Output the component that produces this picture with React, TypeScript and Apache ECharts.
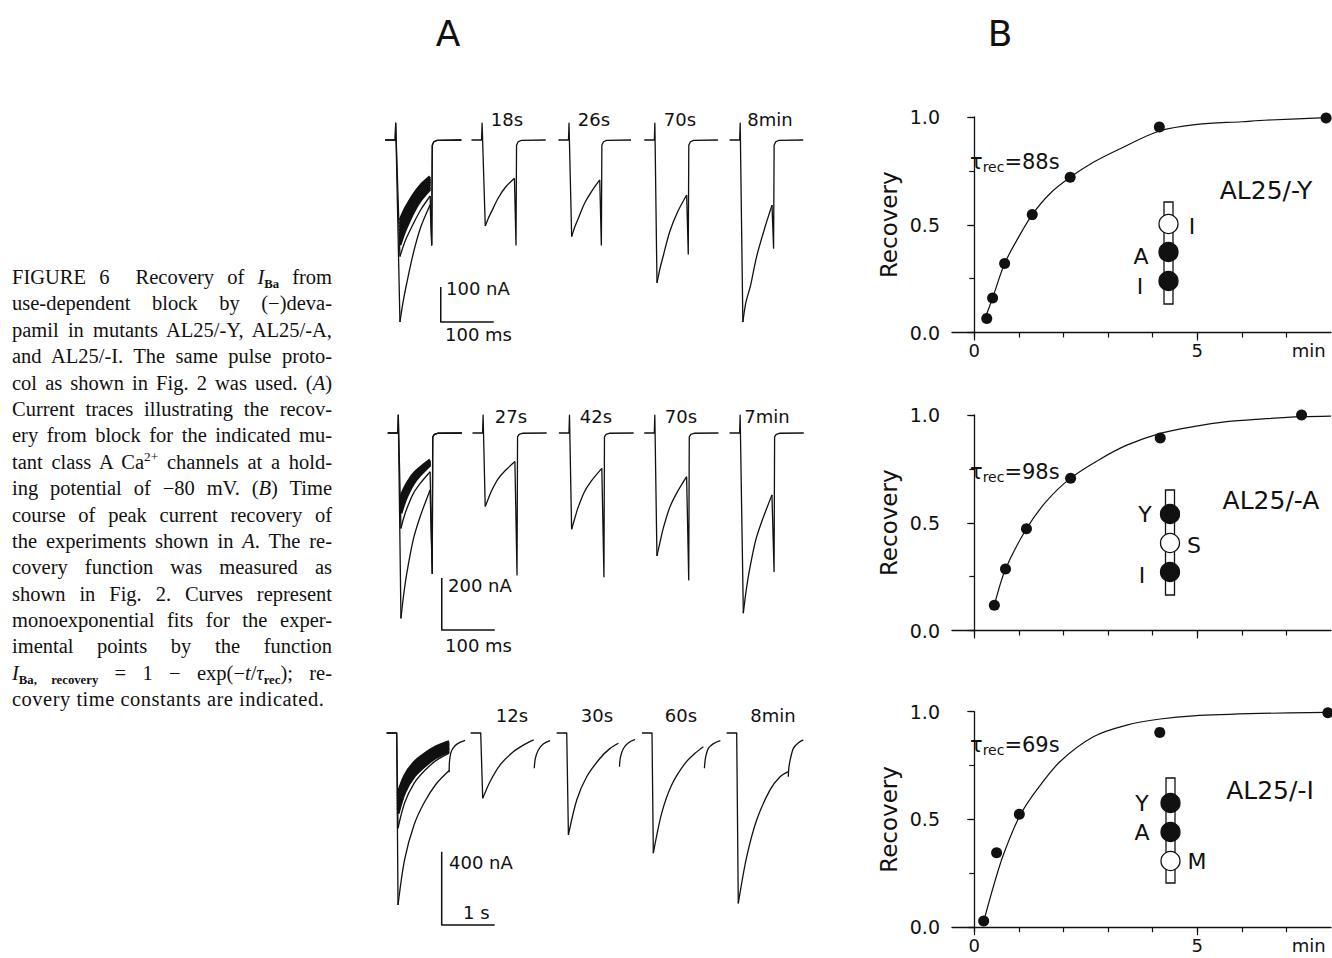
import React, { useEffect, useRef } from "react";
import * as echarts from "echarts";

const FONT = '"DejaVu Sans", Verdana, sans-serif';
const INK = "#111";

// ---------------- Panel A data (time in ms, current in nA) ----------------
const row1Onsets = [0, 163, 327, 489, 650];
const row1TimeLabels = ["18s", "26s", "70s", "8min"];
const row1Spike = 48;
const row1Traces = [
  { g: 0, tail: -300, band: false, d: [[8, -520], [14, -462], [20, -415], [33, -325], [47, -250], [65, -185]] },
  { g: 0, tail: -300, band: false, d: [[8, -333], [14, -305], [20, -281], [33, -240], [47, -200], [65, -160]] },
  { g: 0, tail: -300, band: true, d: [[8, -230], [14, -209], [20, -191], [33, -158], [47, -130], [65, -105]] },
  { g: 0, tail: -300, band: true, d: [[8, -240], [14, -218], [20, -200], [33, -165], [47, -136], [65, -110]] },
  { g: 0, tail: -300, band: true, d: [[8, -250], [14, -227], [20, -208], [33, -171], [47, -141], [65, -114]] },
  { g: 0, tail: -300, band: true, d: [[8, -260], [14, -236], [20, -216], [33, -178], [47, -146], [65, -118]] },
  { g: 0, tail: -300, band: true, d: [[8, -270], [14, -245], [20, -224], [33, -185], [47, -152], [65, -123]] },
  { g: 0, tail: -300, band: true, d: [[8, -280], [14, -254], [20, -233], [33, -192], [47, -158], [65, -128]] },
  { g: 0, tail: -300, band: true, d: [[8, -290], [14, -263], [20, -242], [33, -200], [47, -165], [65, -134]] },
  { g: 0, tail: -300, band: true, d: [[8, -300], [14, -273], [20, -250], [33, -207], [47, -172], [65, -140]] },
  { g: 1, tail: -300, band: false, d: [[6, -246], [12, -223], [18, -204], [30, -167], [44, -135], [61, -109]] },
  { g: 2, tail: -300, band: false, d: [[5, -276], [11, -248], [17, -226], [29, -182], [43, -146], [58, -114]] },
  { g: 3, tail: -326, band: false, d: [[4, -408], [10, -365], [16, -330], [28, -262], [43, -205], [60, -157]] },
  { g: 4, tail: -309, band: false, d: [[5, -520], [11, -462], [19, -419], [31, -333], [47, -248], [60, -186]] },
];
const row1ScaleBar = [[85, -420], [85, -520], [185, -520]];

const row2Onsets = [0, 160, 323, 484, 645];
const row2TimeLabels = ["27s", "42s", "70s", "7min"];
const row2Spike = 69;
const row2Traces = [
  { g: 0, tail: -540, band: false, d: [[5, -713], [10, -624], [16, -540], [28, -412], [41, -323], [60, -219]] },
  { g: 0, tail: -540, band: false, d: [[5, -367], [10, -328], [16, -291], [28, -234], [41, -195], [60, -149]] },
  { g: 0, tail: -540, band: true, d: [[5, -245], [10, -220], [16, -196], [28, -159], [41, -134], [60, -104]] },
  { g: 0, tail: -540, band: true, d: [[5, -254], [10, -228], [16, -203], [28, -164], [41, -138], [60, -107]] },
  { g: 0, tail: -540, band: true, d: [[5, -263], [10, -235], [16, -209], [28, -169], [41, -141], [60, -109]] },
  { g: 0, tail: -540, band: true, d: [[5, -272], [10, -243], [16, -216], [28, -174], [41, -146], [60, -112]] },
  { g: 0, tail: -540, band: true, d: [[5, -281], [10, -251], [16, -223], [28, -180], [41, -150], [60, -115]] },
  { g: 0, tail: -540, band: true, d: [[5, -290], [10, -259], [16, -229], [28, -184], [41, -153], [60, -117]] },
  { g: 0, tail: -540, band: true, d: [[5, -299], [10, -267], [16, -236], [28, -190], [41, -158], [60, -120]] },
  { g: 0, tail: -540, band: true, d: [[5, -309], [10, -276], [16, -244], [28, -196], [41, -162], [60, -123]] },
  { g: 1, tail: -546, band: false, d: [[4, -283], [10, -252], [16, -222], [28, -177], [41, -146], [60, -110]] },
  { g: 2, tail: -553, band: false, d: [[4, -370], [10, -328], [16, -288], [28, -227], [41, -185], [61, -136]] },
  { g: 3, tail: -565, band: false, d: [[4, -473], [10, -418], [16, -366], [28, -287], [41, -232], [60, -168]] },
  { g: 4, tail: -533, band: false, d: [[6, -693], [11, -611], [17, -534], [29, -415], [42, -334], [60, -238]] },
];
const row2ScaleBar = [[82, -558], [82, -758], [182, -758]];

// recovery of the baseline after each tail (relative ms, nA)
const tailRecovery = [[1, -15], [4, -5], [10, -1], [56, 0]];

const row3Onsets = [0, 1585, 3208, 4817, 6415];
const row3TimeLabels = ["12s", "30s", "60s", "8min"];
const row3Traces = [
  { g: 0, band: false, d: [[25, -940], [150, -690], [330, -500], [520, -380], [740, -280], [990, -205]] },
  { g: 0, band: false, d: [[25, -520], [150, -381], [330, -274], [520, -208], [740, -151], [990, -110]] },
  { g: 0, band: true, d: [[25, -330], [150, -234], [330, -161], [520, -116], [740, -76], [990, -48]] },
  { g: 0, band: true, d: [[25, -345], [150, -246], [330, -171], [520, -125], [740, -84], [990, -55]] },
  { g: 0, band: true, d: [[25, -360], [150, -259], [330, -181], [520, -134], [740, -92], [990, -62]] },
  { g: 0, band: true, d: [[25, -375], [150, -271], [330, -192], [520, -143], [740, -101], [990, -70]] },
  { g: 0, band: true, d: [[25, -390], [150, -284], [330, -202], [520, -152], [740, -109], [990, -77]] },
  { g: 0, band: true, d: [[25, -405], [150, -296], [330, -213], [520, -162], [740, -117], [990, -85]] },
  { g: 0, band: true, d: [[25, -420], [150, -308], [330, -223], [520, -171], [740, -125], [990, -92]] },
  { g: 0, band: true, d: [[25, -440], [150, -324], [330, -236], [520, -182], [740, -134], [990, -100]] },
  { g: 1, band: false, d: [[38, -357], [175, -266], [364, -175], [615, -102], [804, -66], [1000, -38]] },
  { g: 2, band: false, d: [[32, -557], [189, -366], [377, -239], [629, -138], [818, -84], [975, -56]] },
  { g: 3, band: false, d: [[25, -657], [182, -439], [371, -284], [623, -166], [811, -111], [969, -75]] },
  { g: 4, band: false, d: [[30, -931], [189, -676], [377, -475], [629, -311], [818, -239], [974, -211]] },
];
const row3Tails = [
  [[990, -215], [995, -160], [1020, -110], [1070, -80], [1150, -58], [1290, -40]],
  [[1011, -193], [1030, -140], [1087, -93], [1180, -60], [1308, -42]],
  [[995, -184], [1015, -130], [1070, -85], [1160, -55], [1290, -35]],
  [[989, -193], [1010, -135], [1064, -84], [1160, -58], [1290, -42]],
  [[974, -239], [980, -200], [1000, -160], [1069, -84], [1160, -55], [1258, -38]],
];
const row3ScaleBar = [[849, -649], [849, -1049], [1849, -1049]];

// ---------------- Panel B data (time in min, recovery fraction) ----------------
const ptsTimeY = [0.28, 0.41, 0.68, 1.3, 2.15, 4.15, 7.89];
const ptsRecY = [0.065, 0.16, 0.32, 0.547, 0.72, 0.954, 0.995];
const fitTimeY = [0.25, 0.41, 0.68, 1.0, 1.3, 1.7, 2.15, 2.67, 3.27, 4.15, 5.0, 6.0, 6.5, 7.9];
const fitRecY = [0.07, 0.16, 0.32, 0.445, 0.547, 0.645, 0.72, 0.79, 0.853, 0.935, 0.966, 0.978, 0.985, 0.997];

const ptsTimeA = [0.45, 0.7, 1.17, 2.16, 4.17, 7.34];
const ptsRecA = [0.117, 0.285, 0.472, 0.707, 0.893, 1.0];
const fitTimeA = [0.45, 0.7, 1.17, 1.62, 2.16, 2.82, 3.42, 4.17, 4.91, 5.66, 6.41, 7.34, 8.0];
const fitRecA = [0.117, 0.285, 0.472, 0.6, 0.707, 0.795, 0.86, 0.915, 0.946, 0.969, 0.981, 0.992, 0.995];

const ptsTimeI = [0.21, 0.5, 1.01, 4.16, 7.93];
const ptsRecI = [0.029, 0.345, 0.524, 0.904, 0.995];
const fitTimeI = [0.21, 0.43, 0.65, 1.01, 1.4, 1.92, 2.67, 3.42, 4.17, 4.91, 6.41, 7.93];
const fitRecI = [0.026, 0.19, 0.335, 0.513, 0.637, 0.768, 0.884, 0.938, 0.966, 0.981, 0.992, 0.997];

const tauLabels = ["88s", "98s", "69s"];
const mutantNames = ["AL25/-Y", "AL25/-A", "AL25/-I"];
const xTickValues = [0, 1, 2, 3, 4, 5, 6, 7];
const xMajorTicks = [0, 5];
const yTickValues = [0, 0.25, 0.5, 0.75, 1];
const yLabelValues = [0, 0.5, 1];

// ---------------- layout (pixels) ----------------
const rowLayout = [
  { onsetPx: 395.7, basePx: 140, pxPerMs: 0.53, pxPerNA: 0.35, xMin: -30, xMax: 800, yMin: -600, yMax: 80 },
  { onsetPx: 398.3, basePx: 433, pxPerMs: 0.53, pxPerNA: 0.26, xMin: -30, xMax: 800, yMin: -800, yMax: 100 },
  { onsetPx: 396.7, basePx: 733, pxPerMs: 0.053, pxPerNA: 0.183, xMin: -300, xMax: 8000, yMin: -1100, yMax: 100 },
];
const bTops = [117, 415, 711.7];
const bLeft = 952;
const bWidth = 379;
const bHeight = 215.5;
const BAND_W = 3;

function lineSeries(idx: number, data: number[][], width: number, smooth: number | boolean = false) {
  return {
    type: "line",
    xAxisIndex: idx,
    yAxisIndex: idx,
    data,
    showSymbol: false,
    symbol: "none",
    silent: true,
    clip: false,
    smooth,
    lineStyle: { color: INK, width, join: "round" },
  };
}

function txt(text: string, x: number, y: number, size: number, align = "center", extra: any = {}) {
  return {
    type: "text",
    x,
    y,
    silent: true,
    style: { text, fill: INK, fontSize: size, fontFamily: FONT, align, verticalAlign: "middle", ...extra },
  };
}

function buildOption() {
  const grids: any[] = [];
  const xAxes: any[] = [];
  const yAxes: any[] = [];
  const series: any[] = [];
  const graphic: any[] = [];

  // Panel A grids
  rowLayout.forEach((L, r) => {
    grids.push({
      left: L.onsetPx + L.xMin * L.pxPerMs,
      top: L.basePx - L.yMax * L.pxPerNA,
      width: (L.xMax - L.xMin) * L.pxPerMs,
      height: (L.yMax - L.yMin) * L.pxPerNA,
      outerBoundsMode: "none",
    });
    xAxes.push({ gridIndex: r, type: "value", show: false, min: L.xMin, max: L.xMax });
    yAxes.push({ gridIndex: r, type: "value", show: false, min: L.yMin, max: L.yMax });
  });

  // Panel B grids
  for (let p = 0; p < 3; p++) {
    grids.push({ left: bLeft, top: bTops[p], width: bWidth, height: bHeight, outerBoundsMode: "none" });
  }
  for (let p = 0; p < 3; p++) {
    xAxes.push({
      gridIndex: 3 + p,
      type: "value",
      min: -0.5,
      max: 8,
      position: "bottom",
      axisLine: { lineStyle: { color: INK, width: 1.3 } },
      axisTick: { customValues: xTickValues, length: 5, lineStyle: { color: INK, width: 1.2 } },
      axisLabel: {
        show: p !== 1,
        customValues: [0, 5, 7.5],
        formatter: (v: number) => (v === 0 ? "0" : v === 5 ? "5" : "min"),
        color: INK,
        fontSize: 18,
        fontFamily: FONT,
        margin: 9,
      },
      splitLine: { show: false },
    });
    yAxes.push({
      gridIndex: 3 + p,
      type: "value",
      min: 0,
      max: 1,
      position: "left",
      name: "Recovery",
      nameLocation: "middle",
      nameGap: 52,
      nameTextStyle: { color: INK, fontSize: 23, fontFamily: FONT },
      axisLine: { lineStyle: { color: INK, width: 1.3 } },
      axisTick: { customValues: yTickValues, length: 5, lineStyle: { color: INK, width: 1.2 } },
      axisLabel: {
        customValues: yLabelValues,
        formatter: (v: number) => v.toFixed(1),
        color: INK,
        fontSize: 19,
        fontFamily: FONT,
        margin: 12,
      },
      splitLine: { show: false },
    });
  }
  for (let p = 0; p < 3; p++) {
    xAxes.push({
      gridIndex: 3 + p,
      type: "value",
      min: -0.5,
      max: 8,
      position: "bottom",
      axisLine: { show: false },
      axisTick: { customValues: xMajorTicks, length: 8, lineStyle: { color: INK, width: 1.2 } },
      axisLabel: { show: false },
      splitLine: { show: false },
    });
    yAxes.push({
      gridIndex: 3 + p,
      type: "value",
      min: 0,
      max: 1,
      position: "left",
      axisLine: { show: false },
      axisTick: { customValues: yLabelValues, length: 7, lineStyle: { color: INK, width: 1.2 } },
      axisLabel: { show: false },
      splitLine: { show: false },
    });
  }

  // Panel A series: sharp onset part, smooth decay, sharp tail part
  const pulseRows = [
    { traces: row1Traces, onsets: row1Onsets, spike: row1Spike, tailDx: 3, bar: row1ScaleBar },
    { traces: row2Traces, onsets: row2Onsets, spike: row2Spike, tailDx: 4, bar: row2ScaleBar },
  ];
  pulseRows.forEach((R, r) => {
    R.traces.forEach((tr) => {
      const on = R.onsets[tr.g];
      const decay = tr.d.map(([t, i]) => [on + t, i]);
      series.push(lineSeries(r, decay, tr.band ? BAND_W : 1.3, 0.3));
      if (!tr.band) {
        series.push(lineSeries(r, [[on - 20, 0], [on - 1, 0], [on, R.spike], decay[0]], 1.3));
        const last = decay[decay.length - 1];
        const tt = last[0] + R.tailDx;
        const tailPts = [last, [tt, tr.tail]].concat(tailRecovery.map(([dt, i]) => [tt + dt, i]));
        series.push(lineSeries(r, tailPts, 1.3));
      }
    });
    series.push(lineSeries(r, R.bar, 1.5));
  });
  row3Traces.forEach((tr) => {
    const on = row3Onsets[tr.g];
    const decay = tr.d.map(([t, i]) => [on + t, i]);
    series.push(lineSeries(2, decay, tr.band ? BAND_W : 1.3, 0.3));
    if (!tr.band) series.push(lineSeries(2, [[on - 190, 0], [on, 0], decay[0]], 1.3));
  });
  row3Tails.forEach((tl, g) => {
    series.push(lineSeries(2, tl.map(([t, i]) => [row3Onsets[g] + t, i]), 1.3, 0.3));
  });
  series.push(lineSeries(2, row3ScaleBar, 1.5));

  // Panel B series
  const bData = [
    { pt: ptsTimeY, pr: ptsRecY, ft: fitTimeY, fr: fitRecY },
    { pt: ptsTimeA, pr: ptsRecA, ft: fitTimeA, fr: fitRecA },
    { pt: ptsTimeI, pr: ptsRecI, ft: fitTimeI, fr: fitRecI },
  ];
  bData.forEach((B, p) => {
    series.push({
      type: "line",
      xAxisIndex: 3 + p,
      yAxisIndex: 3 + p,
      data: B.ft.map((t, i) => [t, B.fr[i]]),
      smooth: 0.3,
      showSymbol: false,
      symbol: "none",
      silent: true,
      lineStyle: { color: INK, width: 1.2 },
    });
    series.push({
      type: "scatter",
      xAxisIndex: 3 + p,
      yAxisIndex: 3 + p,
      data: B.pt.map((t, i) => [t, B.pr[i]]),
      symbol: "circle",
      symbolSize: 11,
      silent: true,
      clip: false,
      itemStyle: { color: INK, opacity: 1 },
    });
  });

  // Texts
  graphic.push(txt("A", 448, 33, 36));
  graphic.push(txt("B", 1000, 33, 36));
  const labelX = [
    [507, 594, 680, 770],
    [511, 596, 681, 767],
    [512, 597, 681, 773],
  ];
  const labelY = [119, 416, 715];
  [row1TimeLabels, row2TimeLabels, row3TimeLabels].forEach((labs, r) => {
    labs.forEach((l, k) => graphic.push(txt(l, labelX[r][k], labelY[r], 18)));
  });
  graphic.push(txt("100 nA", 446, 288, 18, "left"));
  graphic.push(txt("100 ms", 445, 334, 18, "left"));
  graphic.push(txt("200 nA", 448, 585, 18, "left"));
  graphic.push(txt("100 ms", 445, 645, 18, "left"));
  graphic.push(txt("400 nA", 449, 862, 18, "left"));
  graphic.push(txt("1 s", 463, 912, 18, "left"));

  const tauY = [162, 472, 745];
  const nameXY = [[1266, 190], [1271, 500], [1270, 790]];
  tauY.forEach((y, p) => {
    graphic.push({
      type: "text",
      x: 970,
      y,
      silent: true,
      style: {
        text: "{a|τ}{b|rec}{a|=" + tauLabels[p] + "}",
        align: "left",
        verticalAlign: "middle",
        fill: INK,
        rich: {
          a: { fontSize: 21, fontFamily: FONT, lineHeight: 24, fill: INK },
          b: { fontSize: 14, fontFamily: FONT, lineHeight: 14, verticalAlign: "bottom", fill: INK },
        },
      },
    });
    graphic.push(txt(mutantNames[p], nameXY[p][0], nameXY[p][1], 25));
  });

  // Schematic channel segments
  const schem = [
    { cx: 1168.5, y0: 202, y1: 304, dots: [[224, 0], [252, 1], [281, 1]], labs: [["I", 1192, 226], ["A", 1141, 256], ["I", 1140, 286]] },
    { cx: 1170, y0: 490, y1: 595, dots: [[514, 1], [543, 0], [572, 1]], labs: [["Y", 1145, 514], ["S", 1194, 545], ["I", 1142, 575]] },
    { cx: 1170.5, y0: 778, y1: 883, dots: [[803, 1], [832, 1], [861, 0]], labs: [["Y", 1142, 803], ["A", 1142, 832], ["M", 1197, 861]] },
  ];
  schem.forEach((s) => {
    graphic.push({
      type: "rect",
      silent: true,
      shape: { x: s.cx - 4.5, y: s.y0, width: 9, height: s.y1 - s.y0 },
      style: { fill: "#fff", stroke: INK, lineWidth: 1.3 },
    });
    s.dots.forEach(([cy, filled]) => {
      graphic.push({
        type: "circle",
        silent: true,
        shape: { cx: s.cx, cy, r: 9.5 },
        style: { fill: filled ? INK : "#fff", stroke: INK, lineWidth: 1.3 },
      });
    });
    s.labs.forEach(([l, x, y]) => graphic.push(txt(l as string, x as number, y as number, 22)));
  });

  return {
    animation: false,
    backgroundColor: "#fff",
    textStyle: { fontFamily: FONT },
    grid: grids,
    xAxis: xAxes,
    yAxis: yAxes,
    series,
    graphic,
  };
}

const subStyle: React.CSSProperties = {
  fontSize: "0.62em",
  fontWeight: "bold",
  verticalAlign: "baseline",
  position: "relative",
  top: "0.3em",
  lineHeight: 0,
  letterSpacing: 0,
};
const supStyle: React.CSSProperties = {
  fontSize: "0.65em",
  verticalAlign: "baseline",
  position: "relative",
  top: "-0.55em",
  lineHeight: 0,
};

const captionLines: React.ReactNode[] = [
  <>FIGURE 6&nbsp; Recovery of <i>I</i><span style={subStyle}>Ba</span> from</>,
  <>use-dependent block by (−)deva-</>,
  <>pamil in mutants AL25/-Y, AL25/-A,</>,
  <>and AL25/-I. The same pulse proto-</>,
  <>col as shown in Fig. 2 was used. (<i>A</i>)</>,
  <>Current traces illustrating the recov-</>,
  <>ery from block for the indicated mu-</>,
  <>tant class A Ca<span style={supStyle}>2+</span> channels at a hold-</>,
  <>ing potential of −80 mV. (<i>B</i>) Time</>,
  <>course of peak current recovery of</>,
  <>the experiments shown in <i>A</i>. The re-</>,
  <>covery function was measured as</>,
  <>shown in Fig. 2. Curves represent</>,
  <>monoexponential fits for the exper-</>,
  <>imental points by the function</>,
  <><i>I</i><span style={subStyle}>Ba,&nbsp;recovery</span> = 1 − exp(−<i>t</i>/<i>τ</i><span style={subStyle}>rec</span>); re-</>,
  <>covery time constants are indicated.</>,
];

function Caption() {
  return (
    <div
      style={{
        position: "absolute",
        left: 12,
        top: 264,
        width: 320,
        fontFamily: '"Liberation Serif", "Times New Roman", serif',
        fontSize: 20.5,
        lineHeight: "26.4px",
        color: INK,
        zIndex: 2,
      }}
    >
      {captionLines.map((l, i) => {
        const last = i === captionLines.length - 1;
        return (
          <div
            key={i}
            style={{
              height: "26.4px",
              whiteSpace: last ? "nowrap" : "normal",
              letterSpacing: last ? "0.5px" : "0px",
              textAlign: last ? "left" : "justify",
              textAlignLast: last ? "left" : "justify",
            }}
          >
            {l}
          </div>
        );
      })}
    </div>
  );
}

export default function App() {
  const ref = useRef<HTMLDivElement>(null);
  useEffect(() => {
    document.body.style.margin = "0";
    const chart = echarts.init(ref.current as HTMLDivElement, null, { renderer: "svg" });
    chart.setOption(buildOption() as any);
    return () => chart.dispose();
  }, []);
  return (
    <div style={{ position: "absolute", left: 0, top: 0, width: 1332, height: 958, background: "#fff" }}>
      <div ref={ref} style={{ position: "absolute", left: 0, top: 0, width: 1332, height: 958 }} />
      <Caption />
    </div>
  );
}
